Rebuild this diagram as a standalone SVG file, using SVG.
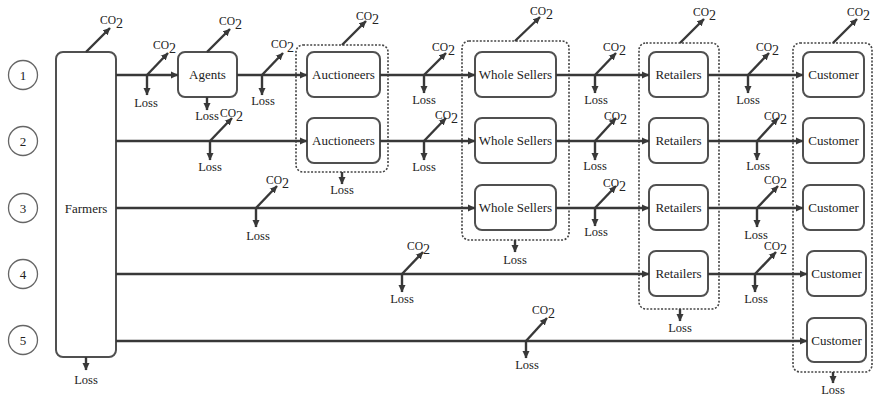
<svg xmlns="http://www.w3.org/2000/svg" width="874" height="396" viewBox="0 0 874 396">
<style>
text{font-family:"Liberation Serif","Times New Roman",serif;fill:#222}
.lbl{font-size:13px;text-anchor:middle;dominant-baseline:central}
.loss{font-size:12.5px;text-anchor:middle}
.co{font-size:11.5px}
.sub{font-size:14px}
.box{fill:#fff;stroke:#505050;stroke-width:2}
.grp{fill:none;stroke:#444;stroke-width:1.6;stroke-dasharray:2 1.6}
.num{fill:#fff;stroke:#666;stroke-width:1.3}
.ln{fill:none;stroke:#383838;stroke-width:2.4;marker-end:url(#ah)}
</style>
<defs>
<marker id="ah" markerUnits="userSpaceOnUse" markerWidth="8" markerHeight="8" refX="7" refY="4" orient="auto">
<path d="M0,0.5 L7.5,4 L0,7.5 z" fill="#383838"/>
</marker>
</defs>
<rect width="874" height="396" fill="#fff"/>

<g id="n1"><circle class="num" cx="23" cy="75" r="14.5"/><text class="lbl" x="23" y="75">1</text></g>
<g id="n2"><circle class="num" cx="23" cy="141" r="14.5"/><text class="lbl" x="23" y="141">2</text></g>
<g id="n3"><circle class="num" cx="23" cy="208" r="14.5"/><text class="lbl" x="23" y="208">3</text></g>
<g id="n4"><circle class="num" cx="23" cy="274" r="14.5"/><text class="lbl" x="23" y="274">4</text></g>
<g id="n5"><circle class="num" cx="23" cy="340" r="14.5"/><text class="lbl" x="23" y="340">5</text></g>

<g id="groups">
<rect id="g-auct" class="grp" x="296" y="45" width="92" height="127" rx="7"/>
<rect id="g-ws" class="grp" x="462" y="41" width="107" height="199" rx="7"/>
<rect id="g-ret" class="grp" x="639" y="43" width="80" height="266" rx="7"/>
<rect id="g-cust" class="grp" x="793" y="43" width="79" height="329" rx="7"/>
</g>

<g id="farmers"><rect class="box" x="56" y="52" width="60" height="305" rx="7"/><text class="lbl" x="86" y="208">Farmers</text></g>
<g id="agents"><rect class="box" x="178" y="52" width="59" height="45" rx="7"/><text class="lbl" x="207.5" y="74.5">Agents</text></g>
<g id="auct1"><rect class="box" x="307" y="52" width="73" height="45" rx="7"/><text class="lbl" x="343.5" y="74.5">Auctioneers</text></g>
<g id="auct2"><rect class="box" x="307" y="118" width="73" height="45" rx="7"/><text class="lbl" x="343.5" y="140.5">Auctioneers</text></g>
<g id="ws1"><rect class="box" x="475" y="52" width="81" height="45" rx="7"/><text class="lbl" x="515.5" y="74.5">Whole Sellers</text></g>
<g id="ws2"><rect class="box" x="475" y="118" width="81" height="45" rx="7"/><text class="lbl" x="515.5" y="140.5">Whole Sellers</text></g>
<g id="ws3"><rect class="box" x="475" y="185" width="81" height="45" rx="7"/><text class="lbl" x="515.5" y="207.5">Whole Sellers</text></g>
<g id="ret1"><rect class="box" x="649" y="52" width="59" height="45" rx="7"/><text class="lbl" x="678.5" y="74.5">Retailers</text></g>
<g id="ret2"><rect class="box" x="649" y="118" width="59" height="45" rx="7"/><text class="lbl" x="678.5" y="140.5">Retailers</text></g>
<g id="ret3"><rect class="box" x="649" y="185" width="59" height="45" rx="7"/><text class="lbl" x="678.5" y="207.5">Retailers</text></g>
<g id="ret4"><rect class="box" x="649" y="251" width="59" height="45" rx="7"/><text class="lbl" x="678.5" y="273.5">Retailers</text></g>
<g id="cust1"><rect class="box" x="803" y="52" width="61" height="45" rx="7"/><text class="lbl" x="833.5" y="74.5">Customer</text></g>
<g id="cust2"><rect class="box" x="803" y="118" width="61" height="45" rx="7"/><text class="lbl" x="833.5" y="140.5">Customer</text></g>
<g id="cust3"><rect class="box" x="803" y="185" width="61" height="45" rx="7"/><text class="lbl" x="833.5" y="207.5">Customer</text></g>
<g id="cust4"><rect class="box" x="807" y="251" width="59" height="45" rx="7"/><text class="lbl" x="836.5" y="273.5">Customer</text></g>
<g id="cust5"><rect class="box" x="807" y="318" width="59" height="44" rx="7"/><text class="lbl" x="836.5" y="340">Customer</text></g>

<g id="connectors">
<path class="ln" d="M116,75 L178,75"/>
<path class="ln" d="M237,75 L307,75"/>
<path class="ln" d="M380,75 L475,75"/>
<path class="ln" d="M556,75 L649,75"/>
<path class="ln" d="M708,75 L803,75"/>
<path class="ln" d="M116,141 L307,141"/>
<path class="ln" d="M380,141 L475,141"/>
<path class="ln" d="M556,141 L649,141"/>
<path class="ln" d="M708,141 L803,141"/>
<path class="ln" d="M116,208 L475,208"/>
<path class="ln" d="M556,208 L649,208"/>
<path class="ln" d="M708,208 L803,208"/>
<path class="ln" d="M116,274 L649,274"/>
<path class="ln" d="M708,274 L807,274"/>
<path class="ln" d="M116,341 L807,341"/>

<g id="j1a"><path class="ln" d="M147,75 L168,53"/><path class="ln" d="M147,75 L147,95"/><text class="co" x="153" y="49">CO<tspan class="sub" dy="4">2</tspan></text><text class="loss" x="146" y="107">Loss</text></g>
<g id="j1b"><path class="ln" d="M262,75 L283,53"/><path class="ln" d="M262,75 L262,95"/><text class="co" x="271" y="48">CO<tspan class="sub" dy="4">2</tspan></text><text class="loss" x="263" y="105">Loss</text></g>
<g id="j1c"><path class="ln" d="M424,75 L446,53"/><path class="ln" d="M424,75 L424,93"/><text class="co" x="432" y="51">CO<tspan class="sub" dy="4">2</tspan></text><text class="loss" x="424" y="104">Loss</text></g>
<g id="j1d"><path class="ln" d="M595,75 L616,53"/><path class="ln" d="M595,75 L595,93"/><text class="co" x="603" y="51">CO<tspan class="sub" dy="4">2</tspan></text><text class="loss" x="596" y="104">Loss</text></g>
<g id="j1e"><path class="ln" d="M748,75 L769,53"/><path class="ln" d="M748,75 L748,93"/><text class="co" x="756" y="51">CO<tspan class="sub" dy="4">2</tspan></text><text class="loss" x="748" y="104">Loss</text></g>

<g id="j2a"><path class="ln" d="M210,141 L232,118"/><path class="ln" d="M210,141 L210,160"/><text class="co" x="220" y="117">CO<tspan class="sub" dy="4">2</tspan></text><text class="loss" x="210" y="171">Loss</text></g>
<g id="j2b"><path class="ln" d="M424,141 L446,118"/><path class="ln" d="M424,141 L424,160"/><text class="co" x="435" y="119">CO<tspan class="sub" dy="4">2</tspan></text><text class="loss" x="424" y="171">Loss</text></g>
<g id="j2c"><path class="ln" d="M595,141 L616,118"/><path class="ln" d="M595,141 L595,160"/><text class="co" x="604" y="120">CO<tspan class="sub" dy="4">2</tspan></text><text class="loss" x="595" y="170">Loss</text></g>
<g id="j2d"><path class="ln" d="M757,141 L778,118"/><path class="ln" d="M757,141 L757,160"/><text class="co" x="764" y="120">CO<tspan class="sub" dy="4">2</tspan></text><text class="loss" x="758" y="170">Loss</text></g>

<g id="j3a"><path class="ln" d="M256,208 L277,186"/><path class="ln" d="M256,208 L256,227"/><text class="co" x="266" y="184">CO<tspan class="sub" dy="4">2</tspan></text><text class="loss" x="258" y="240">Loss</text></g>
<g id="j3b"><path class="ln" d="M595,208 L616,186"/><path class="ln" d="M595,208 L595,226"/><text class="co" x="603" y="187">CO<tspan class="sub" dy="4">2</tspan></text><text class="loss" x="596" y="236">Loss</text></g>
<g id="j3c"><path class="ln" d="M757,208 L778,186"/><path class="ln" d="M757,208 L757,227"/><text class="co" x="764" y="184">CO<tspan class="sub" dy="4">2</tspan></text><text class="loss" x="756" y="239">Loss</text></g>

<g id="j4a"><path class="ln" d="M402,274 L423,252"/><path class="ln" d="M402,274 L402,292"/><text class="co" x="407" y="250">CO<tspan class="sub" dy="4">2</tspan></text><text class="loss" x="402" y="303">Loss</text></g>
<g id="j4b"><path class="ln" d="M755,274 L776,252"/><path class="ln" d="M755,274 L755,292"/><text class="co" x="764" y="250">CO<tspan class="sub" dy="4">2</tspan></text><text class="loss" x="756" y="303">Loss</text></g>

<g id="j5a"><path class="ln" d="M526,341 L547,318"/><path class="ln" d="M526,341 L526,358"/><text class="co" x="532" y="314">CO<tspan class="sub" dy="4">2</tspan></text><text class="loss" x="527" y="369">Loss</text></g>

<g id="e-farmers"><path class="ln" d="M86,52 L110,28"/><text class="co" x="100" y="24">CO<tspan class="sub" dy="4">2</tspan></text><path class="ln" d="M86,357 L86,370"/><text class="loss" x="86" y="384">Loss</text></g>
<g id="e-agents"><path class="ln" d="M207,52 L230,29"/><text class="co" x="219" y="25">CO<tspan class="sub" dy="4">2</tspan></text><path class="ln" d="M207,97 L207,110"/><text class="loss" x="207" y="120">Loss</text></g>
<g id="e-auct"><path class="ln" d="M342,45 L366,21"/><text class="co" x="356" y="20">CO<tspan class="sub" dy="4">2</tspan></text><path class="ln" d="M342,172 L342,184"/><text class="loss" x="342" y="194">Loss</text></g>
<g id="e-ws"><path class="ln" d="M515,41 L540,17"/><text class="co" x="530" y="15">CO<tspan class="sub" dy="4">2</tspan></text><path class="ln" d="M515,240 L515,252"/><text class="loss" x="515" y="264">Loss</text></g>
<g id="e-ret"><path class="ln" d="M680,43 L704,19"/><text class="co" x="693" y="16">CO<tspan class="sub" dy="4">2</tspan></text><path class="ln" d="M680,309 L680,321"/><text class="loss" x="680" y="332">Loss</text></g>
<g id="e-cust"><path class="ln" d="M833,43 L857,19"/><text class="co" x="847" y="16">CO<tspan class="sub" dy="4">2</tspan></text><path class="ln" d="M833,372 L833,383"/><text class="loss" x="833" y="394">Loss</text></g>
</g>
</svg>
